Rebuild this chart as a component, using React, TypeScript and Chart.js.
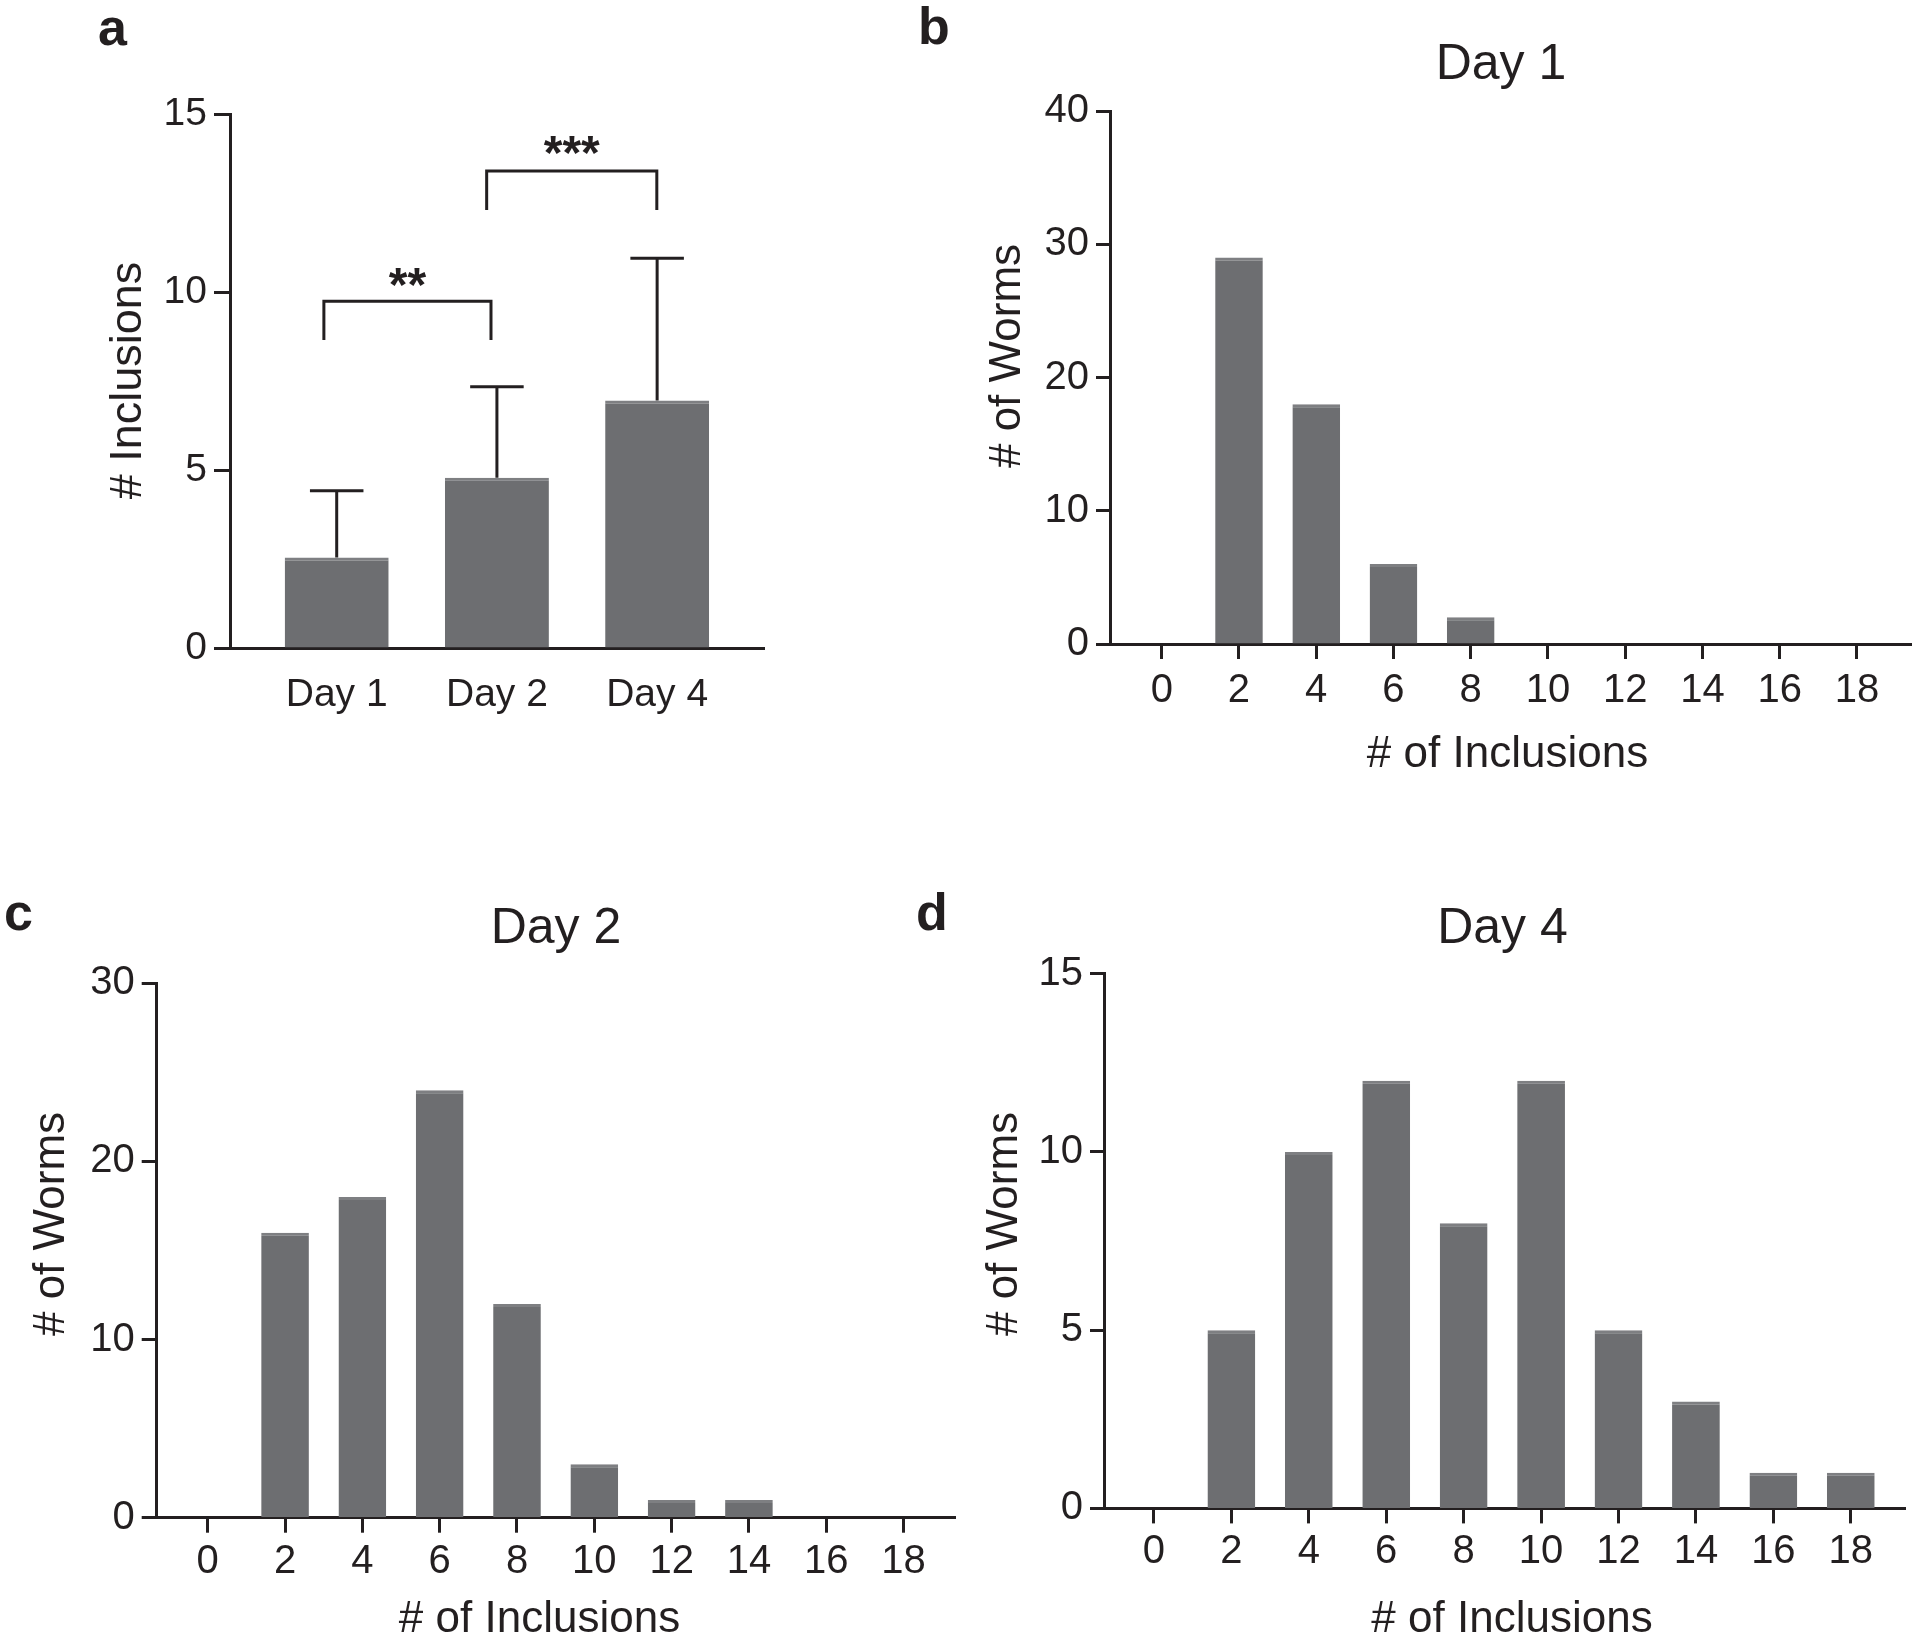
import React, { useEffect, useRef } from 'react';
import { Chart, registerables } from 'chart.js';

Chart.register(...registerables);

const INK = '#231f20';
const BAR_FILL = '#6d6e71';
const BAR_EDGE = '#7e7f82';
const FONT = "'Liberation Sans', Arial, Helvetica, sans-serif";

Chart.defaults.font.family = FONT;
Chart.defaults.color = INK;

// ---- Panel a : mean inclusions per day ----
const dayLabels = ['Day 1', 'Day 2', 'Day 4'];
const dayPositions = [1, 2, 3];
const meanInclusions = [2.54, 4.78, 6.95];
const sdInclusions = [1.88, 2.56, 4.0];
const sigLabels = ['**', '***'];
const sigFrom = [0.92, 1.936];
const sigTo = [1.963, 2.998];
const sigBarValues = [9.74, 13.4];
const sigLegValues = [8.65, 12.3];
const sigTextValues = [10.5, 14.2];

// ---- Panels b, c, d : histograms ----
const inclusionBins = [0, 2, 4, 6, 8, 10, 12, 14, 16, 18];
const wormsDay1 = [0, 29, 18, 6, 2, 0, 0, 0, 0, 0];
const wormsDay2 = [0, 16, 18, 24, 12, 3, 1, 1, 0, 0];
const wormsDay4 = [0, 5, 10, 12, 8, 12, 5, 3, 1, 1];

type TextItem = { text: string; x: number; y: number; size: number; rotate?: boolean; bold?: boolean };
type Pad = { left: number; top: number; right: number; bottom: number };

function textPlugin(items: TextItem[]) {
  return {
    id: 'panelText',
    afterDraw(chart: any) {
      const ctx = chart.ctx;
      items.forEach((t) => {
        ctx.save();
        ctx.font = `${t.bold ? 'bold ' : ''}${t.size}px ${FONT}`;
        ctx.fillStyle = INK;
        ctx.textAlign = 'center';
        ctx.textBaseline = 'alphabetic';
        ctx.translate(t.x, t.y);
        if (t.rotate) ctx.rotate(-Math.PI / 2);
        ctx.fillText(t.text, 0, 0.358 * t.size);
        ctx.restore();
      });
    },
  };
}

function axisLook(tickLen: number, drawTicks = true) {
  return {
    offset: false,
    grid: {
      display: drawTicks,
      offset: false,
      drawOnChartArea: false,
      drawTicks,
      tickLength: drawTicks ? tickLen : 0,
      tickWidth: 3,
      tickColor: INK,
    },
    border: { display: true, width: 3, color: INK },
  };
}

const barStyle = {
  backgroundColor: BAR_FILL,
  borderColor: BAR_EDGE,
  borderWidth: { top: 3, right: 0, bottom: 0, left: 0 },
  borderSkipped: false,
  categoryPercentage: 1,
};

const errorSigPlugin = {
  id: 'errorSig',
  afterDatasetsDraw(chart: any) {
    const { ctx } = chart;
    const x = chart.scales.x;
    const y = chart.scales.y;
    ctx.save();
    ctx.strokeStyle = INK;
    ctx.lineWidth = 3;
    ctx.lineCap = 'butt';
    ctx.lineJoin = 'miter';
    dayPositions.forEach((p, i) => {
      const px = x.getPixelForValue(p);
      const half = x.getPixelForValue(p + 0.167) - px;
      const yBase = y.getPixelForValue(meanInclusions[i]);
      const yTop = y.getPixelForValue(meanInclusions[i] + sdInclusions[i]);
      ctx.beginPath();
      ctx.moveTo(px, yBase);
      ctx.lineTo(px, yTop);
      ctx.moveTo(px - half, yTop);
      ctx.lineTo(px + half, yTop);
      ctx.stroke();
    });
    sigLabels.forEach((label, i) => {
      const x1 = x.getPixelForValue(sigFrom[i]);
      const x2 = x.getPixelForValue(sigTo[i]);
      const yb = y.getPixelForValue(sigBarValues[i]);
      const yl = y.getPixelForValue(sigLegValues[i]);
      ctx.beginPath();
      ctx.moveTo(x1, yl);
      ctx.lineTo(x1, yb);
      ctx.lineTo(x2, yb);
      ctx.lineTo(x2, yl);
      ctx.stroke();
      const size = 48;
      ctx.font = `bold ${size}px ${FONT}`;
      ctx.fillStyle = INK;
      ctx.textAlign = 'center';
      ctx.textBaseline = 'alphabetic';
      ctx.fillText(label, (x1 + x2) / 2, y.getPixelForValue(sigTextValues[i]) + 0.55 * size);
    });
    ctx.restore();
  },
};

function baseOptions(pad: Pad) {
  return {
    responsive: false,
    animation: false,
    events: [],
    // left and bottom space is owned by the y and x scales (see afterFit)
    layout: { padding: { left: 0, top: pad.top, right: pad.right, bottom: 0 } },
    plugins: { legend: { display: false }, tooltip: { enabled: false } },
  };
}

function makePanelA(): any {
  const pad: Pad = { left: 230, top: 114, right: 136, bottom: 152 };
  return {
    type: 'bar',
    data: {
      datasets: [
        {
          data: dayPositions.map((p, i) => ({ x: p, y: meanInclusions[i] })),
          ...barStyle,
          barPercentage: 0.649,
        },
      ],
    },
    options: {
      ...baseOptions(pad),
      scales: {
        x: {
          type: 'linear',
          min: 0.334,
          max: 3.667,
          afterBuildTicks: (s: any) => {
            s.ticks = dayPositions.map((v) => ({ value: v }));
          },
          afterFit: (s: any) => {
            s.height = pad.bottom;
          },
          ticks: {
            font: { size: 39 },
            color: INK,
            padding: 24,
            autoSkip: false,
            maxRotation: 0,
            minRotation: 0,
            callback: (v: number) => dayLabels[dayPositions.indexOf(v)],
          },
          ...axisLook(0, false),
        },
        y: {
          type: 'linear',
          min: 0,
          max: 15,
          ticks: { stepSize: 5, font: { size: 39 }, color: INK, padding: 7 },
          afterFit: (s: any) => {
            s.width = pad.left;
          },
          ...axisLook(16),
        },
      },
    },
    plugins: [
      errorSigPlugin,
      textPlugin([{ text: '# Inclusions', x: 125, y: 380.5, size: 45, rotate: true }]),
    ],
  };
}

function makeHistogram(
  counts: number[],
  yMax: number,
  yStep: number,
  xMin: number,
  xMax: number,
  pad: Pad,
  yTickLen: number,
  xLabelPad: number,
  texts: TextItem[]
): any {
  return {
    type: 'bar',
    data: {
      datasets: [
        {
          data: inclusionBins.map((b, i) => ({ x: b, y: counts[i] })),
          ...barStyle,
          barPercentage: 0.617,
        },
      ],
    },
    options: {
      ...baseOptions(pad),
      scales: {
        x: {
          type: 'linear',
          min: xMin,
          max: xMax,
          afterBuildTicks: (s: any) => {
            s.ticks = inclusionBins.map((v) => ({ value: v }));
          },
          afterFit: (s: any) => {
            s.height = pad.bottom;
          },
          ticks: { font: { size: 40 }, color: INK, padding: xLabelPad, autoSkip: false, maxRotation: 0, minRotation: 0 },
          ...axisLook(15),
        },
        y: {
          type: 'linear',
          min: 0,
          max: yMax,
          ticks: { stepSize: yStep, font: { size: 40 }, color: INK, padding: 7 },
          afterFit: (s: any) => {
            s.width = pad.left;
          },
          ...axisLook(yTickLen),
        },
      },
    },
    plugins: [textPlugin(texts)],
  };
}

const makePanelB = () =>
  makeHistogram(wormsDay1, 40, 10, -1.34, 19.4, { left: 170, top: 111, right: 9, bottom: 156 }, 14, 8, [
    { text: 'Day 1', x: 561, y: 61, size: 50 },
    { text: '# of Inclusions', x: 567.5, y: 751, size: 44 },
    { text: '# of Worms', x: 64, y: 356, size: 44, rotate: true },
  ]);

const makePanelC = () =>
  makeHistogram(wormsDay2, 30, 10, -1.32, 19.33, { left: 156.7, top: 141.3, right: 5, bottom: 124.3 }, 15, 5, [
    { text: 'Day 2', x: 556, y: 83, size: 50 },
    { text: '# of Inclusions', x: 539.5, y: 774, size: 44 },
    { text: '# of Worms', x: 47.8, y: 382, size: 44, rotate: true },
  ]);

const makePanelD = () =>
  makeHistogram(wormsDay4, 15, 5, -1.29, 19.4, { left: 144, top: 131.7, right: 15, bottom: 133.6 }, 14, 5, [
    { text: 'Day 4', x: 542.5, y: 83, size: 50 },
    { text: '# of Inclusions', x: 552, y: 774, size: 44 },
    { text: '# of Worms', x: 41, y: 382, size: 44, rotate: true },
  ]);

function ChartCanvas(props: { left: number; top: number; width: number; height: number; make: () => any }) {
  const ref = useRef<HTMLCanvasElement>(null);
  useEffect(() => {
    const chart = new Chart(ref.current as HTMLCanvasElement, props.make());
    return () => chart.destroy();
  }, []);
  return (
    <canvas
      ref={ref}
      width={props.width}
      height={props.height}
      style={{ position: 'absolute', left: props.left, top: props.top, width: props.width, height: props.height }}
    />
  );
}

const letterBase: React.CSSProperties = {
  position: 'absolute',
  fontFamily: FONT,
  fontWeight: 'bold',
  fontSize: 52,
  lineHeight: '52px',
  color: INK,
  margin: 0,
};

export default function App() {
  return (
    <div
      style={{
        position: 'absolute',
        left: 0,
        top: 0,
        width: 1920,
        height: 1642,
        background: '#ffffff',
        overflow: 'hidden',
      }}
    >
      <ChartCanvas left={0} top={0} width={900} height={800} make={makePanelA} />
      <ChartCanvas left={940} top={0} width={980} height={800} make={makePanelB} />
      <ChartCanvas left={0} top={842} width={960} height={800} make={makePanelC} />
      <ChartCanvas left={960} top={842} width={960} height={800} make={makePanelD} />
      <div style={{ ...letterBase, left: 98, top: 1 }}>a</div>
      <div style={{ ...letterBase, left: 918, top: 0 }}>b</div>
      <div style={{ ...letterBase, left: 4, top: 886 }}>c</div>
      <div style={{ ...letterBase, left: 916, top: 886 }}>d</div>
    </div>
  );
}
